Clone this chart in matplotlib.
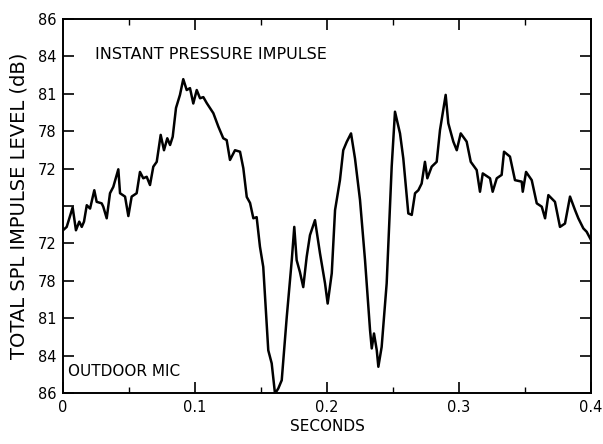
import matplotlib
matplotlib.use("Agg")
import matplotlib.pyplot as plt
from matplotlib.ticker import MultipleLocator

# trace: time in seconds, level as position on the
# (symmetric) tick scale, 0 = bottom "86", 10 = top "86"
seconds = [0.000, 0.0028, 0.0073, 0.0098, 0.0123, 0.0142, 0.0159, 0.0180, 0.0205, 0.0237,
           0.0255, 0.0293, 0.0305, 0.0331, 0.0356, 0.0381, 0.0419, 0.0432, 0.0470, 0.0495,
           0.0520, 0.0558, 0.0583, 0.0608, 0.0634, 0.0659, 0.0684, 0.0710, 0.0740, 0.0765,
           0.0790, 0.0811, 0.0831, 0.0856, 0.0886, 0.0911, 0.0937, 0.0962, 0.0987, 0.1013,
           0.1038, 0.1063, 0.1089, 0.1139, 0.1177, 0.1214, 0.1240, 0.1265, 0.1303, 0.1341,
           0.1366, 0.1392, 0.1417, 0.1442, 0.1467, 0.1492, 0.1517, 0.1555, 0.1581, 0.1606,
           0.1631, 0.1657, 0.1695, 0.1733, 0.1752, 0.1770, 0.1795, 0.1820, 0.1846, 0.1871,
           0.1909, 0.1947, 0.1985, 0.2005, 0.2036, 0.2061, 0.2098, 0.2123, 0.2149, 0.2182,
           0.2212, 0.2250, 0.2288, 0.2326, 0.2339, 0.2356, 0.2377, 0.2389, 0.2414, 0.2452,
           0.2490, 0.2515, 0.2553, 0.2578, 0.2616, 0.2642, 0.2667, 0.2692, 0.2717, 0.2742,
           0.2760, 0.2793, 0.2831, 0.2856, 0.2881, 0.2899, 0.2919, 0.2957, 0.2983, 0.3013,
           0.3058, 0.3089, 0.3134, 0.3159, 0.3180, 0.3235, 0.3255, 0.3286, 0.3323, 0.3341,
           0.3386, 0.3424, 0.3475, 0.3483, 0.3508, 0.3551, 0.3589, 0.3627, 0.3652, 0.3677,
           0.3727, 0.3765, 0.3803, 0.3841, 0.3879, 0.3904, 0.3942, 0.3967, 0.4000]
level = [4.35, 4.44, 4.96, 4.35, 4.58, 4.44, 4.58, 5.02, 4.93, 5.42,
         5.11, 5.07, 4.98, 4.67, 5.34, 5.51, 5.98, 5.34, 5.25, 4.73,
         5.25, 5.34, 5.91, 5.74, 5.78, 5.56, 6.05, 6.18, 6.90, 6.49,
         6.81, 6.63, 6.85, 7.62, 7.97, 8.39, 8.10, 8.15, 7.74, 8.10,
         7.88, 7.91, 7.75, 7.48, 7.12, 6.81, 6.76, 6.23, 6.49, 6.45,
         6.01, 5.24, 5.08, 4.67, 4.70, 3.91, 3.37, 1.14, 0.79, -0.02,
         0.12, 0.34, 2.03, 3.55, 4.44, 3.55, 3.23, 2.83, 3.64, 4.22,
         4.62, 3.73, 2.93, 2.39, 3.20, 4.89, 5.69, 6.49, 6.71, 6.94,
         6.27, 5.16, 3.55, 1.68, 1.19, 1.59, 1.14, 0.70, 1.23, 2.93,
         6.05, 7.52, 6.94, 6.27, 4.80, 4.76, 5.34, 5.42, 5.60, 6.18,
         5.74, 6.05, 6.18, 7.03, 7.57, 7.97, 7.21, 6.72, 6.49, 6.94,
         6.72, 6.18, 5.96, 5.38, 5.87, 5.74, 5.38, 5.74, 5.83, 6.45,
         6.32, 5.69, 5.65, 5.38, 5.91, 5.69, 5.07, 4.98, 4.67, 5.29,
         5.11, 4.44, 4.53, 5.25, 4.89, 4.67, 4.40, 4.31, 4.09]

ytick_labels = ["86", "84", "81", "78", "72", "", "72", "78", "81", "84", "86"]
xtick_labels = ["0", "0.1", "0.2", "0.3", "0.4"]

fig = plt.figure(figsize=(6.03, 4.44), dpi=100)
ax = fig.add_axes([0.1045, 0.115, 0.8756, 0.8423])

ax.plot(seconds, level, color="black", linewidth=1.8, solid_joinstyle="round")

ax.set_xlim(0, 0.4)
ax.set_ylim(0, 10)

ax.set_xticks([0, 0.1, 0.2, 0.3, 0.4])
ax.set_xticklabels(xtick_labels)
ax.xaxis.set_minor_locator(MultipleLocator(0.05))
ax.set_yticks(range(11))
ax.set_yticklabels(ytick_labels[::-1])

ax.tick_params(axis="both", which="major", direction="in", length=8, width=1.2,
               top=True, right=True, labelsize=10.5, pad=5)
ax.tick_params(axis="x", which="minor", direction="in", length=4, width=1.0, top=True)

for sp in ax.spines.values():
    sp.set_linewidth(1.4)

ax.set_xlabel("SECONDS", fontsize=11, labelpad=3)
ax.set_ylabel("TOTAL SPL IMPULSE LEVEL (dB)", fontsize=14, labelpad=6)

ax.text(0.06, 0.905, "INSTANT PRESSURE IMPULSE", transform=ax.transAxes,
        fontsize=11.5, va="center", ha="left")
ax.text(0.01, 0.057, "OUTDOOR MIC", transform=ax.transAxes,
        fontsize=11, va="center", ha="left")

fig.savefig("out.png", dpi=100, facecolor="white")
